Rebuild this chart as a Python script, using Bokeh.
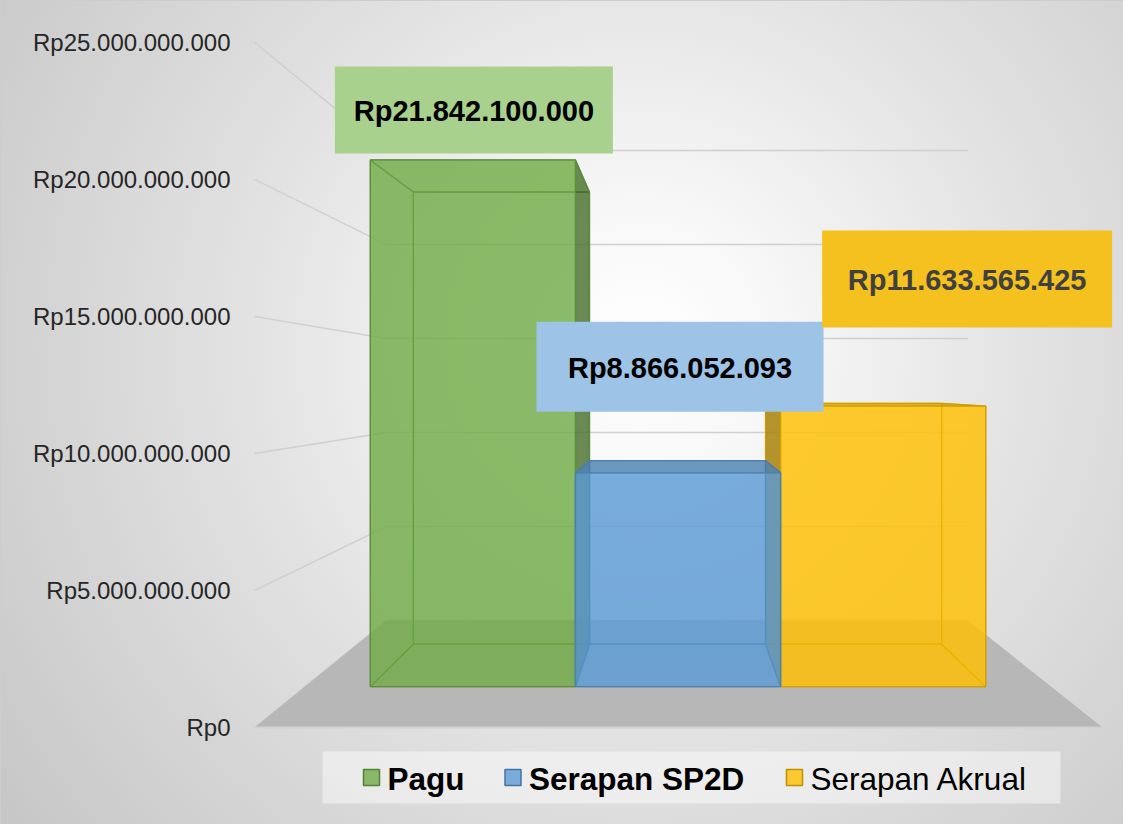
import numpy as np
from bokeh.plotting import figure
from bokeh.models import Range1d, FixedTicker
from bokeh.core.properties import value
from bokeh.embed import file_html
from bokeh.resources import INLINE

# ---------------- data ----------------
series = ["Pagu", "Serapan SP2D", "Serapan Akrual"]
amounts = [21842100000, 8866052093, 11633565425]
label_texts = ["Rp21.842.100.000", "Rp8.866.052.093", "Rp11.633.565.425"]
tick_values = [0, 5000000000, 10000000000, 15000000000, 20000000000, 25000000000]
tick_labels = ["Rp0", "Rp5.000.000.000", "Rp10.000.000.000", "Rp15.000.000.000",
               "Rp20.000.000.000", "Rp25.000.000.000"]

# ---------------- style ----------------
bar_colors = ["#70AD47", "#5B9BD5", "#FFC000"]
label_fills = ["#A9D18E", "#9DC3E6", "#F4C11F"]
label_colors = ["#000000", "#000000", "#404040"]
legend_styles = ["bold", "bold", "normal"]
FONT = value("Liberation Sans")

W, H = 1123, 824
BORDER_L = 250
Y_LO, Y_HI = -3.54e9, 26.53e9
K = H / (Y_HI - Y_LO)          # screen px per value unit
PAGE = 8


def vval(sy):
    """page-screen y -> value units on the front plane"""
    return Y_HI - (sy - PAGE) / K


# perspective set-up (vanishing point and depth scales)
VX = 682.0
VYV = vval(394.3)
S_WALL, S_F, S_B = 0.686, 0.880, 0.7555
FLOOR_X = (262.0, 1110.0)
BAR_W = 233.1
LABEL_OFF = [(1, -50), (2, -106), (84, -127)]
LABEL_BOX = [(278, 87), (287, 90), (290, 97)]


def proj(X, v, s):
    return VX + s * (X - VX), VYV + s * (v - VYV)


def shade(hexc, f):
    h = hexc.lstrip("#")
    r, g, b = (int(h[i:i + 2], 16) for i in (0, 2, 4))
    return "#%02x%02x%02x" % (int(r * f), int(g * f), int(b * f))


p = figure(width=W, height=H, x_range=Range1d(PAGE + BORDER_L, PAGE + W),
           y_range=Range1d(Y_LO, Y_HI), output_backend="svg",
           toolbar_location=None, x_axis_location=None,
           min_border_left=BORDER_L, min_border_right=0,
           min_border_top=0, min_border_bottom=0)
p.styles = {"background": "radial-gradient(circle farthest-corner at 57% 42%, "
                          "#ffffff 0%, #f8f8f8 16%, #e3e3e3 48%, #c6c6c6 100%)",
            "box-shadow": "inset 1px 1px 0 0 #cdcdcd"}
p.background_fill_color = None
p.border_fill_color = None
p.outline_line_color = None
p.grid.visible = False

ax = p.yaxis[0]
ax.ticker = FixedTicker(ticks=tick_values)
ax.major_label_overrides = {t: l for t, l in zip(tick_values, tick_labels)}
ax.axis_line_color = None
ax.major_tick_line_color = None
ax.minor_tick_line_color = None
ax.major_tick_out = 0
ax.major_tick_in = 0
ax.minor_tick_out = 0
ax.major_label_standoff = 20
ax.major_label_text_font = "Liberation Sans"
ax.major_label_text_font_size = "24px"
ax.major_label_text_color = "#262626"

# ---------------- walls gridlines ----------------
gx, gy = [], []
for t in tick_values:
    a = proj(FLOOR_X[0], t, 1.0)
    b = proj(FLOOR_X[0], t, S_WALL)
    c = proj(FLOOR_X[1], t, S_WALL)
    gx.append([a[0], b[0], c[0]])
    gy.append([a[1], b[1], c[1]])
p.multi_line(gx, gy, line_color="#d0d0d0", line_width=1.5)

# ---------------- floor ----------------
fl = [proj(FLOOR_X[0], 0, 1.0), proj(FLOOR_X[1], 0, 1.0),
      proj(FLOOR_X[1], 0, S_WALL), proj(FLOOR_X[0], 0, S_WALL)]
p.patch([q[0] for q in fl], [q[1] for q in fl], fill_color="#b7b7b7",
        line_color=None)
p.line([fl[0][0], fl[1][0]], [fl[0][1], fl[1][1]], line_color="#d2d2d2",
       line_width=2)

# ---------------- bars ----------------
center = (FLOOR_X[0] + FLOOR_X[1]) / 2
x_starts = [center - 1.5 * BAR_W + i * BAR_W for i in range(len(amounts))]

order = [0, 2, 1]
for i in order:
    v = amounts[i]
    xa, xb = x_starts[i], x_starts[i] + BAR_W
    col = bar_colors[i]
    F = lambda X, y: proj(X, y, S_F)
    B = lambda X, y: proj(X, y, S_B)
    faces = [
        ("back", [B(xa, 0), B(xb, 0), B(xb, v), B(xa, v)], False),
        ("bottom", [F(xa, 0), F(xb, 0), B(xb, 0), B(xa, 0)], False),
        ("left", [F(xa, 0), F(xa, v), B(xa, v), B(xa, 0)], xa > VX),
        ("right", [F(xb, 0), F(xb, v), B(xb, v), B(xb, 0)], xb < VX),
        ("top", [F(xa, v), F(xb, v), B(xb, v), B(xa, v)], v < VYV),
        ("front", [F(xa, 0), F(xb, 0), F(xb, v), F(xa, v)], True),
    ]
    faces.sort(key=lambda f: f[2])
    for name, pts, facing in faces:
        fc = col
        if facing and name in ("left", "right"):
            fc = shade(col, 0.5)
        elif facing and name == "top":
            fc = shade(col, 0.78)
        p.patch([q[0] for q in pts], [q[1] for q in pts], fill_color=fc,
                fill_alpha=0.57, line_color=shade(col, 0.82), line_alpha=0.85,
                line_width=1.3)

# ---------------- data labels ----------------
for i, v in enumerate(amounts):
    ax_, ay_ = proj(x_starts[i] + BAR_W / 2, v, S_F)
    lx = ax_ + LABEL_OFF[i][0]
    ly = ay_ - LABEL_OFF[i][1] / K
    p.rect([lx], [ly], width=LABEL_BOX[i][0], height=LABEL_BOX[i][1],
           width_units="screen", height_units="screen",
           fill_color=label_fills[i], line_color=None)
    p.text([lx], [ly], text=[label_texts[i]], text_align="center",
           text_baseline="middle", text_font=FONT, text_font_size="29px",
           text_font_style="bold", text_color=label_colors[i], y_offset=1)

# ---------------- legend ----------------
LEG_Y = vval(785)
p.rect([699], [LEG_Y], width=738, height=52, width_units="screen",
       height_units="screen", fill_color="white", fill_alpha=0.45,
       line_color=None)
sq_x = [379, 520.5, 802]
tx_x = [395, 536.5, 818]
for i, name in enumerate(series):
    p.rect([sq_x[i]], [LEG_Y], width=16, height=16, width_units="screen",
           height_units="screen", fill_color=bar_colors[i], fill_alpha=0.8,
           line_color=shade(bar_colors[i], 0.75), line_width=1.5)
    p.text([tx_x[i]], [LEG_Y], text=[name], text_align="left",
           text_baseline="middle", text_font=FONT, text_font_size="31.5px",
           text_font_style=legend_styles[i], text_color="#000000", y_offset=1)

open("out.html", "w").write(file_html(p, INLINE))
